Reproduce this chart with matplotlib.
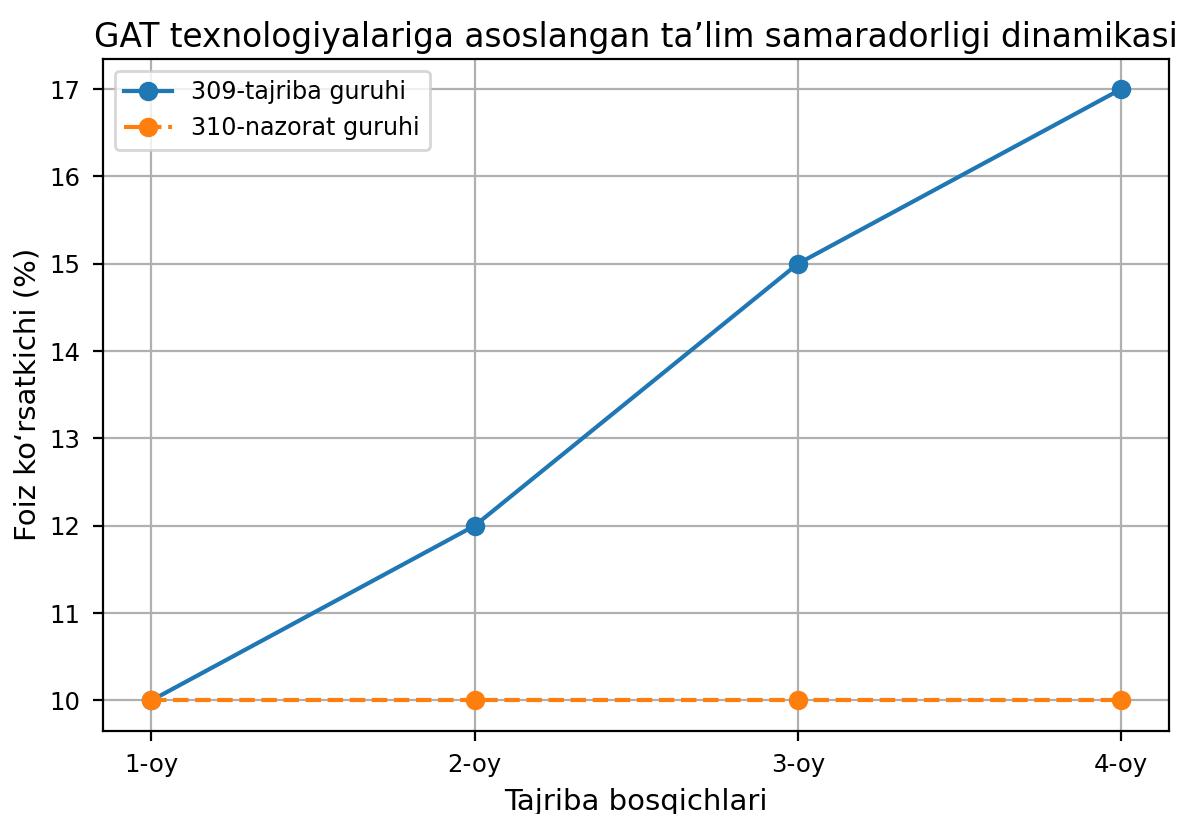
import matplotlib
matplotlib.use('Agg')
import matplotlib.pyplot as plt

stages = ['1-oy', '2-oy', '3-oy', '4-oy']
tajriba = [10, 12, 15, 17]
nazorat = [10, 10, 10, 10]

fig = plt.figure(figsize=(5.985, 4.07), dpi=200)
ax = fig.add_axes([0.086, 0.102, 0.891, 0.826])

ax.plot(stages, tajriba, marker='o', label='309-tajriba guruhi')
ax.plot(stages, nazorat, marker='o', linestyle='--', label='310-nazorat guruhi')

ax.set_title('GAT texnologiyalariga asoslangan ta\u2019lim samaradorligi dinamikasi',
             fontsize=11.8, pad=4)
ax.set_xlabel('Tajriba bosqichlari', fontsize=10.5, labelpad=4)
ax.set_ylabel('Foiz ko\u2018rsatkichi (%)', fontsize=10.5, labelpad=3)
ax.tick_params(labelsize=8.8, pad=4.5)
ax.grid(True)
ax.legend(loc='upper left', fontsize=8.6)

fig.savefig('out.png', dpi=200)
